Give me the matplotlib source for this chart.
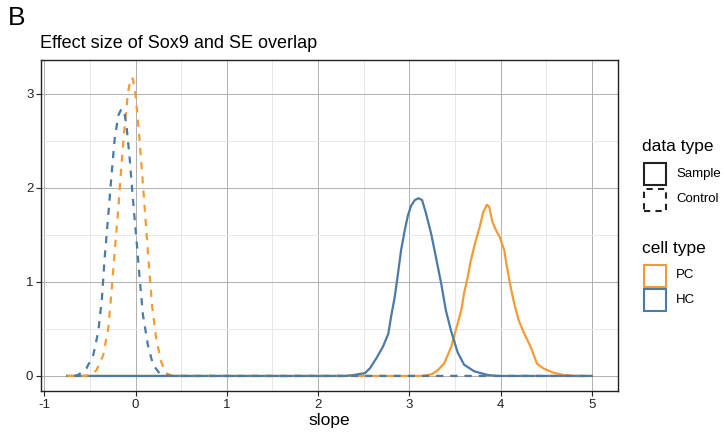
import matplotlib
matplotlib.use("Agg")
import matplotlib.pyplot as plt
from matplotlib.patches import Rectangle

plt.rcParams['font.family'] = ['Liberation Sans', 'DejaVu Sans']

# colours for the two cell types
pc_color = '#F39C34'
hc_color = '#4A7AA8'

# density curves (slope, density)
hc_sample_x = [-0.75, 2.30, 2.386, 2.513, 2.567, 2.64, 2.71, 2.77, 2.80, 2.84, 2.876, 2.91,
               2.95, 2.985, 3.02, 3.06, 3.10, 3.14, 3.18, 3.24, 3.29, 3.35, 3.40, 3.46,
               3.53, 3.60, 3.71, 3.86, 3.97, 5.00]
hc_sample_y = [0, 0, 0.01, 0.03, 0.08, 0.19, 0.31, 0.45, 0.63, 0.84, 1.09, 1.34,
               1.55, 1.71, 1.81, 1.87, 1.89, 1.87, 1.74, 1.51, 1.27, 0.98, 0.70, 0.47,
               0.25, 0.12, 0.05, 0.01, 0.0, 0]

pc_sample_x = [-0.75, 3.15, 3.25, 3.31, 3.38, 3.46, 3.51, 3.57, 3.60, 3.64, 3.67, 3.72,
               3.77, 3.81, 3.85, 3.875, 3.91, 3.95, 3.99, 4.04, 4.07, 4.11, 4.15, 4.20,
               4.26, 4.33, 4.40, 4.47, 4.58, 4.69, 4.84, 5.00]
pc_sample_y = [0, 0, 0.02, 0.06, 0.13, 0.31, 0.49, 0.70, 0.88, 1.05, 1.21, 1.41,
               1.58, 1.74, 1.82, 1.80, 1.64, 1.55, 1.48, 1.34, 1.16, 0.95, 0.77, 0.59,
               0.45, 0.31, 0.13, 0.08, 0.035, 0.01, 0.0, 0]

hc_control_x = [-0.75, -0.68, -0.63, -0.54, -0.465, -0.41, -0.37, -0.34, -0.30, -0.265,
                -0.23, -0.19, -0.156, -0.127, -0.10, -0.065, -0.03, 0.008, 0.044, 0.08,
                0.134, 0.19, 0.26, 0.37, 5.00]
hc_control_y = [0, 0, 0.01, 0.08, 0.22, 0.47, 0.82, 1.25, 1.71, 2.13,
                2.52, 2.77, 2.84, 2.82, 2.66, 2.31, 1.88, 1.46, 1.04, 0.65,
                0.33, 0.12, 0.03, 0.0, 0]

pc_control_x = [-0.75, -0.56, -0.50, -0.43, -0.356, -0.30, -0.265, -0.23, -0.19, -0.156,
                -0.12, -0.084, -0.054, -0.03, 0.0, 0.036, 0.073, 0.11, 0.145, 0.18,
                0.225, 0.28, 0.33, 0.41, 5.00]
pc_control_y = [0, 0, 0.01, 0.06, 0.22, 0.51, 0.89, 1.32, 1.78, 2.24,
                2.66, 3.01, 3.17, 3.16, 2.98, 2.59, 2.13, 1.64, 1.18, 0.75,
                0.40, 0.15, 0.03, 0.0, 0]

x_ticks = [-1, 0, 1, 2, 3, 4, 5]
y_ticks = [0, 1, 2, 3]

fig = plt.figure(figsize=(7.26, 4.32), dpi=100)
ax = fig.add_axes([41 / 726, 41 / 432, 577 / 726, 331 / 432])

ax.plot(pc_sample_x, pc_sample_y, color=pc_color, lw=1.6, zorder=3)
ax.plot(hc_sample_x, hc_sample_y, color=hc_color, lw=1.6, zorder=3)
ax.plot(pc_control_x, pc_control_y, color=pc_color, lw=1.6, ls=(0, (3.2, 3.2)), zorder=4)
ax.plot(hc_control_x, hc_control_y, color=hc_color, lw=1.6, ls=(3.2, (3.2, 3.2)), zorder=4)

ax.set_xlim(-1.0375, 5.2875)
ax.set_ylim(-0.16, 3.36)
ax.set_xticks(x_ticks)
ax.set_xticklabels([str(t) for t in x_ticks])
ax.set_yticks(y_ticks)
ax.set_xticks([-0.5, 0.5, 1.5, 2.5, 3.5, 4.5], minor=True)
ax.set_yticks([0.5, 1.5, 2.5], minor=True)
ax.grid(which='major', color='#b0b0b0', lw=0.7)
ax.grid(which='minor', color='#e8e8e8', lw=0.7)
ax.set_axisbelow(True)
ax.tick_params(which='major', length=3.5, width=0.8, labelsize=9.5, colors='#222222', pad=2)
ax.tick_params(which='minor', length=0)
for s in ax.spines.values():
    s.set_linewidth(1.0)
    s.set_color('#222222')
ax.set_xlabel('slope', fontsize=12.5, labelpad=2)

fig.text(8 / 726, 1 - 18 / 432, 'B', fontsize=19, va='center', ha='left')
fig.text(40 / 726, 1 - 44 / 432, 'Effect size of Sox9 and SE overlap', fontsize=13,
         va='center', ha='left')

# legend drawn by hand in pixel positions
def px(x, y):
    return x / 726, 1 - y / 432

fig.text(*px(642, 147), 'data type', fontsize=12.5, va='center')
fig.text(*px(642, 249), 'cell type', fontsize=12.5, va='center')
keys = [(163, 'Sample', '#222222', '-'),
        (188.5, 'Control', '#222222', (0, (3, 2.5))),
        (264.5, 'PC', pc_color, '-'),
        (289, 'HC', hc_color, '-')]
for top, label, col, style in keys:
    x0, y0 = px(643.5, top + 22)
    fig.patches.append(Rectangle((x0, y0), 22.5 / 726, 22 / 432, transform=fig.transFigure,
                                 fill=False, edgecolor=col, lw=1.5, ls=style))
    fig.text(*px(676, top + 11), label, fontsize=9.5, va='center')

fig.savefig('out.png', dpi=100)
